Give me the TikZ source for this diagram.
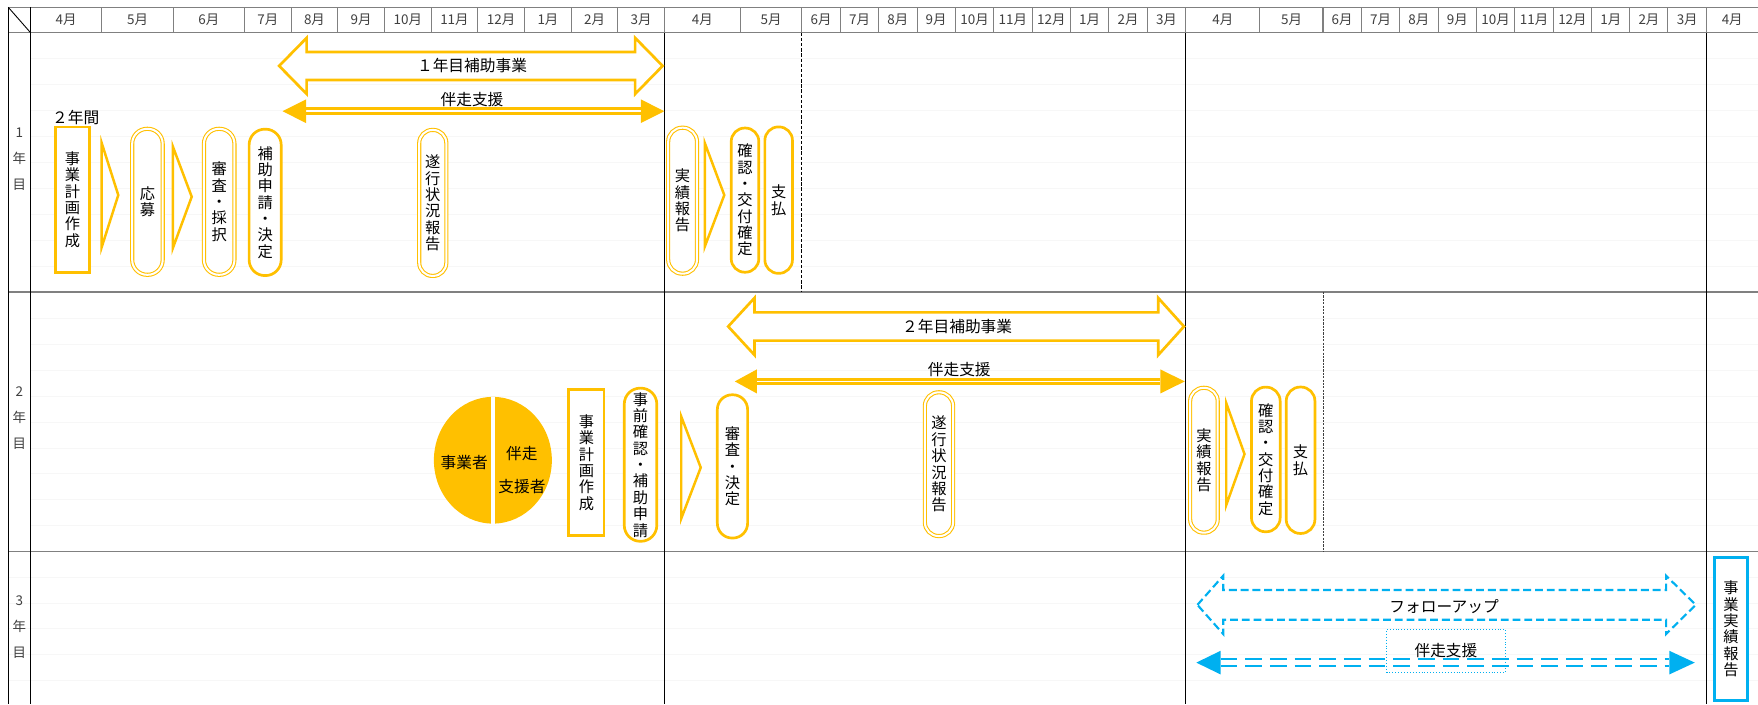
\documentclass[tikz,border=0pt]{standalone}
\usepackage{fontspec}
\setmainfont{Noto Sans CJK JP}
\usetikzlibrary{shapes.geometric}
\definecolor{gold}{HTML}{FFC000}
\definecolor{sky}{HTML}{00B0F0}
\definecolor{linegray}{HTML}{808080}
\definecolor{txtgray}{HTML}{404040}
\newcommand\vfont{\fontsize{13.6}{14.6}\selectfont}
\newcommand\hfont{\fontsize{14}{16}\selectfont}
\newcommand\mfont{\fontsize{12}{14}\selectfont}
\newcommand\rfont{\fontsize{12}{23.2}\selectfont}
% block double arrow: #1 opts, #2 left tip x, #3 left base x, #4 right base x, #5 right tip x, #6 centre y, #7 head half, #8 shaft half
\newcommand\dblarrow[8]{\draw[#1] (#2,#6) -- (#3,{#6-#7}) -- (#3,{#6-#8}) -- (#4,{#6-#8}) -- (#4,{#6-#7}) -- (#5,#6) -- (#4,{#6+#7}) -- (#4,{#6+#8}) -- (#3,{#6+#8}) -- (#3,{#6+#7}) -- cycle;}
% filled arrow heads: #1 colour, #2 left tip, #3 left base, #4 right base, #5 right tip, #6 y, #7 half
\newcommand\tipheads[7]{%
  \fill[#1] (#2,#6) -- (#3,{#6-#7}) -- (#3,{#6+#7}) -- cycle;
  \fill[#1] (#5,#6) -- (#4,{#6-#7}) -- (#4,{#6+#7}) -- cycle;}
\begin{document}
\begin{tikzpicture}[x=1pt,y=-1pt,
  every node/.style={inner sep=0pt,outer sep=0pt},
  vtext/.style={align=center,font=\vfont,text=black},
  stadD/.style 2 args={vtext,draw=gold,fill=white,line width=0.95pt,double=white,double distance=1.8pt,minimum width=#1pt,minimum height=#2pt,rounded corners={#1pt/2-0.3pt}},
  stadT/.style 2 args={vtext,draw=gold,fill=white,line width=2.4pt,minimum width=#1pt,minimum height=#2pt,rounded corners={#1pt/2-0.3pt}},
  planbox/.style 2 args={vtext,draw=gold,fill=white,line width=2.4pt,minimum width=#1pt,minimum height=#2pt},
  chev/.style={draw=gold,fill=white,line width=2.2pt},
  month/.style={font=\mfont,text=txtgray},
  rowlab/.style={align=center,font=\rfont,text=txtgray},
  hlabel/.style={font=\hfont,text=black},
  faint/.style={draw=black!3,line width=0.5pt},
  gridline/.style={draw=linegray,line width=1.3pt},
  headsep/.style={draw=linegray,line width=0.9pt},
  yearline/.style={draw=black,line width=1pt},
]
\useasboundingbox (0,0) rectangle (1568,628);
\fill[white] (0,0) rectangle (1568,628);

% faint spreadsheet grid
\foreach \k in {1,...,9} {
  \draw[faint] (27.3,{29.2+23.13*\k}) -- (1568,{29.2+23.13*\k});
  \draw[faint] (27.3,{260.5+23.15*\k}) -- (1568,{260.5+23.15*\k});
}
\foreach \k in {1,...,5} {
  \draw[faint] (7.4,{492+22.9*\k}) -- (1568,{492+22.9*\k});
}

% header
\foreach \a/\b/\m [count=\i] in {27.3/90.8/4月, 90.8/154.5/5月, 154.5/218.2/6月, 218.2/259.6/7月, 259.6/301.4/8月, 301.4/342.9/9月, 342.9/384.6/10月, 384.6/426.1/11月, 426.1/467.9/12月, 467.9/509.6/1月, 509.6/551.1/2月, 551.1/592.5/3月,
  592.5/660.4/4月, 660.4/715.1/5月, 715.1/749.7/6月, 749.7/783.6/7月, 783.6/817.9/8月, 817.9/852.1/9月, 852.1/886.3/10月, 886.3/920.6/11月, 920.6/954.8/12月, 954.8/989.0/1月, 989.0/1023.3/2月, 1023.3/1057.5/3月,
  1057.5/1123.8/4月, 1123.8/1180/5月, 1180/1214.2/6月, 1214.2/1248.4/7月, 1248.4/1282.6/8月, 1282.6/1316.9/9月, 1316.9/1351.1/10月, 1351.1/1385.4/11月, 1385.4/1419.6/12月, 1419.6/1453.8/1月, 1453.8/1487.7/2月, 1487.7/1522/3月} {
  \node[month] (h\i) at ({(\a+\b)/2},17.9) {\m};
  \draw[headsep] (\b,6.5) -- (\b,29.2);
}
\node[month] (h37) at (1545,17.9) {4月};
\draw[headsep] (7.4,6.5) -- (1568,6.5);
\draw[gridline] (7.4,29.2) -- (1568,29.2);
\draw[gridline] (7.4,260.5) -- (1568,260.5);
\draw[gridline] (7.4,492) -- (1568,492);
\draw[black,line width=0.8pt] (7.4,6.5) -- (27.3,29.2);

% vertical frame lines
\draw[yearline] (7.4,6.5) -- (7.4,628);
\draw[yearline] (27.3,6.5) -- (27.3,628);
\draw[yearline] (592.5,29.2) -- (592.5,628);
\draw[yearline] (1057.5,29.2) -- (1057.5,628);
\draw[yearline] (1522,29.2) -- (1522,628);
\draw[black,line width=1.3pt,dash pattern=on 3pt off 1.6pt] (715.1,29.2) -- (715.1,260.5);
\draw[black!75,line width=0.8pt,dash pattern=on 2pt off 1pt] (1180,260.5) -- (1180,492);

% row labels
\node[rowlab] (r1) at (17.35,142) {1\\年\\目};
\node[rowlab] (r2) at (17.35,373.3) {2\\年\\目};
\node[rowlab] (r3) at (17.35,559) {3\\年\\目};

% ===== year 1 =====
\dblarrow{draw=gold,fill=white,line width=2.4pt}{249}{273.5}{566.5}{591}{58.8}{25}{12.5}
\node[hlabel] (sub1) at (421,58.8) {１年目補助事業};
\draw[gold,line width=2.8pt,double=white,double distance=1.3pt] (273,99.2) -- (571.5,99.2);
\tipheads{gold}{252}{273}{571.5}{592.5}{99.2}{10.6}
\node[hlabel] (sup1) at (421,88.4) {伴走支援};

\node[hlabel,anchor=west] (two) at (46.5,104.5) {２年間};
\node[planbox={29.8}{129.6}] (plan1) at (64.7,178) {事\\業\\計\\画\\作\\成};
\draw[chev] (90.7,127.5) -- (105.5,174) -- (90.7,220.5) -- cycle;
\node[stadD={27.2}{130.2}] (apply1) at (131.5,180) {応\\募};
\draw[chev] (154.1,130.5) -- (171,175.5) -- (154.1,221.5) -- cycle;
\node[stadD={27.2}{130.2}] (review1) at (195.5,180) {審\\査\\・\\採\\択};
\node[stadT={28.6}{130.6}] (grant1) at (236.5,180.5) {補\\助\\申\\請\\・\\決\\定};
\node[stadD={24.2}{130.2}] (prog1) at (386,181) {遂\\行\\状\\況\\報\\告};
\node[stadD={25.7}{130.2}] (res1) at (608.8,179) {実\\績\\報\\告};
\draw[chev] (628.6,127.5) -- (646,174) -- (628.6,220) -- cycle;
\node[stadT={24.6}{128.6}] (conf1) at (664.5,178.5) {確\\認\\・\\交\\付\\確\\定};
\node[stadT={24.6}{130.6}] (pay1) at (694.5,178.5) {支\\払};

% ===== year 2 =====
\node[ellipse,fill=gold,minimum width=105.2pt,minimum height=113pt] (pair) at (439.6,410.5) {};
\draw[white,line width=3pt] (pair.north) -- (pair.south);
\node[hlabel] (biz) at (414,413) {事業者};
\node[hlabel] (sup2a) at (465.5,404.3) {伴走};
\node[hlabel] (sup2b) at (465.5,434) {支援者};
\node[planbox={31.6}{130.6}] (plan2) at (523,412.5) {事\\業\\計\\画\\作\\成};
\node[stadT={29}{136.6}] (pre2) at (571.3,414.5) {事\\前\\確\\認\\・\\補\\助\\申\\請};
\draw[chev] (607.6,371.5) -- (625,417) -- (607.6,462.5) -- cycle;
\node[stadT={27}{127.8}] (review2) at (653.3,416) {審\\査\\・\\決\\定};

\dblarrow{draw=gold,fill=white,line width=2.4pt}{649.5}{673}{1033}{1056}{291.2}{25.5}{12.6}
\node[hlabel] (sub2) at (853.7,291.2) {２年目補助事業};
\draw[gold,line width=2.8pt,double=white,double distance=1.3pt] (675,340.2) -- (1035,340.2);
\tipheads{gold}{655.4}{675}{1035}{1056.7}{340.2}{10.7}
\node[hlabel] (sup2) at (855.6,329.6) {伴走支援};

\node[stadD={25.2}{128.2}] (prog2) at (837.5,414) {遂\\行\\状\\況\\報\\告};
\node[stadD={24.6}{129.2}] (res2) at (1073.8,410.5) {実\\績\\報\\告};
\draw[chev] (1093.7,359.5) -- (1110,405) -- (1093.7,450.5) -- cycle;
\node[stadT={25.6}{129}] (conf2) at (1129,409.8) {確\\認\\・\\交\\付\\確\\定};
\node[stadT={25.6}{130.6}] (pay2) at (1160,410.5) {支\\払};

% ===== year 3 =====
\dblarrow{draw=sky,fill=white,line width=1.9pt,dash pattern=on 7pt off 3.5pt}{1068}{1091}{1486}{1512.5}{539.5}{26}{13.3}
\node[hlabel] (follow) at (1288,541) {フォローアップ};
\draw[sky,line width=2pt,dash pattern=on 15pt off 7pt] (1088.6,588) -- (1489,588);
\draw[sky,line width=2pt,dash pattern=on 15pt off 7pt] (1088.6,594) -- (1489,594);
\tipheads{sky}{1067}{1088.6}{1489}{1511.6}{591}{10.5}
\node[hlabel,draw=sky,line width=0.6pt,dotted,minimum width=106pt,minimum height=38.4pt] (sup3) at (1289.7,580.2) {伴走支援};
\node[vtext,draw=sky,fill=white,line width=2.6pt,minimum width=29.4pt,minimum height=127.2pt] (report) at (1544,560.9) {事\\業\\実\\績\\報\\告};
\end{tikzpicture}
\end{document}
